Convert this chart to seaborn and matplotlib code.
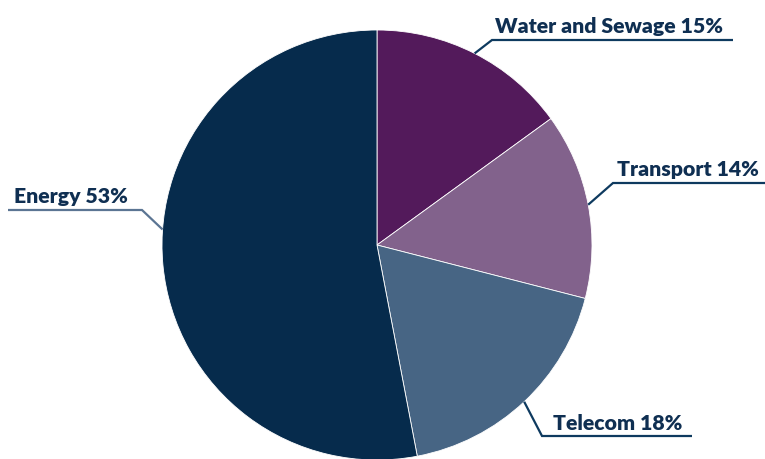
import numpy as np
import matplotlib
matplotlib.use("Agg")
import matplotlib.pyplot as plt
import seaborn as sns

categories = ["Water and Sewage", "Transport", "Telecom", "Energy"]
shares = [15, 14, 18, 53]
colors = ["#531A5B", "#82628C", "#476584", "#062B4C"]
line_colors = ["#0E3A5F", "#0E3A5F", "#0E3A5F", "#5B7593"]

sns.set_theme(style="white")
plt.rcParams['font.family'] = ['Lato', 'DejaVu Sans']

W, H = 765, 460
fig = plt.figure(figsize=(W / 100, H / 100), dpi=100)
ax = fig.add_axes([0, 0, 1, 1])
ax.set_xlim(0, W)
ax.set_ylim(0, H)
ax.set_aspect('equal')
ax.axis('off')

cx, cy, r = 377, H - 246, 215
wedges, _ = ax.pie(shares, colors=sns.color_palette(colors), startangle=90,
                   counterclock=False, radius=r, center=(cx, cy),
                   wedgeprops=dict(edgecolor="white", linewidth=0.6))
ax.set_xlim(0, W)
ax.set_ylim(0, H)

# layout (same order as categories): anchor fraction within wedge, elbow, end x, text pos
anchor_frac = [0.5, 0.5, 0.5, 0.55]
elbows = [(492, 41), (613, 184), (542, 437), (142, 211)]
ends = [733, 765, 692, 8]
text_pos = [(495, 33), (617, 176), (553, 430), (14, 203)]

for w, cat, val, fr, el, ex, tp, lc in zip(wedges, categories, shares, anchor_frac,
                                           elbows, ends, text_pos, line_colors):
    ang = np.deg2rad(w.theta1 + (w.theta2 - w.theta1) * (1 - fr))
    ax_ = cx + r * np.cos(ang)
    ay_ = cy + r * np.sin(ang)
    ex_, ey_ = el[0], H - el[1]
    ax.plot([ax_, ex_, ex], [ay_, ey_, ey_], color=lc, lw=1.6,
            solid_capstyle='butt', solid_joinstyle='miter', clip_on=False)
    ax.text(tp[0], H - tp[1], f"{cat} {val}%", fontsize=15.3, fontweight='heavy',
            color="#0F2F52", ha='left', va='baseline')

fig.savefig("out.png", dpi=100)
